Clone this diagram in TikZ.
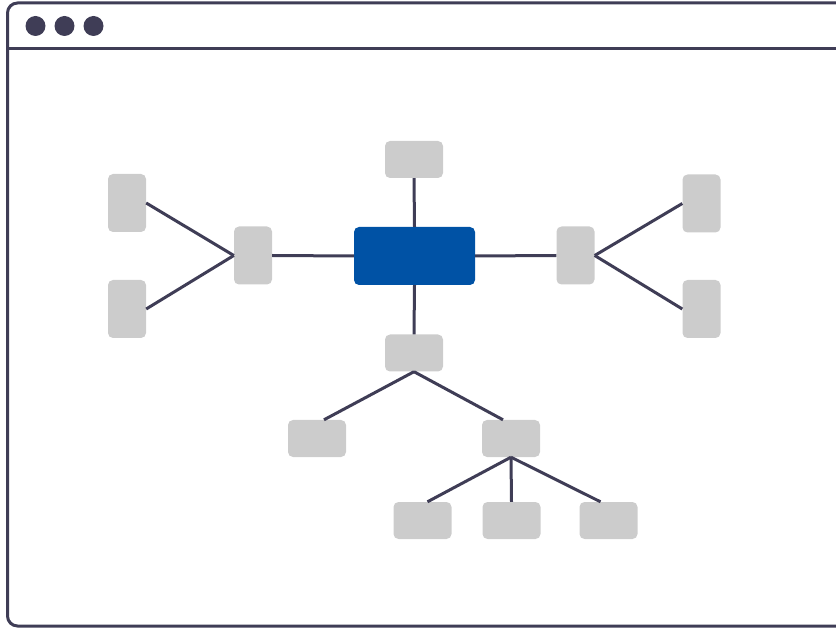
\documentclass[tikz,border=0pt]{standalone}
\usetikzlibrary{calc}
\definecolor{ink}{HTML}{3F3D56}
\definecolor{boxgray}{HTML}{CCCCCC}
\definecolor{mainblue}{HTML}{0052A5}
\begin{document}
\begin{tikzpicture}[x=1pt,y=-1pt,
  gbox/.style={fill=boxgray,rounded corners=5pt,inner sep=0pt,draw=none},
  tall/.style={gbox,minimum width=38pt,minimum height=58pt},
  wide/.style={gbox,minimum width=58pt,minimum height=37pt},
  hub/.style={fill=mainblue,rounded corners=5pt,inner sep=0pt,minimum width=121pt,minimum height=58pt},
  link/.style={draw=ink,line width=3pt},
  dot/.style={circle,fill=ink,inner sep=0pt,minimum size=20pt}]
\useasboundingbox (0,0) rectangle (836,628);
\clip (0,0) rectangle (836,628);
% window
\draw[ink,line width=3pt,rounded corners=10pt] (7.5,3) rectangle (860,626);
\coordinate (hl) at (7.5,49);
\coordinate (hr) at (860,49);
\draw[ink,line width=3pt] (hl) -- (hr);
\node[dot] (d1) at (35.5,26) {};
\node[dot] (d2) at (64.5,26) {};
\node[dot] (d3) at (93.5,26) {};
% nodes
\node[hub] (hub) at (414.5,256) {};
\node[wide] (top) at (414,159.5) {};
\node[tall] (lm) at (253,255.5) {};
\node[tall] (lt) at (127,203) {};
\node[tall] (lb) at (127,309) {};
\node[tall] (rm) at (575.5,255.5) {};
\node[tall] (rt) at (701.5,203.5) {};
\node[tall] (rb) at (701.5,309) {};
\node[wide] (mid) at (414,353) {};
\node[wide] (lc) at (317,438.5) {};
\node[wide] (rc) at (511,438.5) {};
\node[wide] (ba) at (422.5,520.5) {};
\node[wide] (bb) at (511.5,520.5) {};
\node[wide] (bc) at (608.5,520.5) {};
% connectors
\draw[link] (top.south) -- (hub.north);
\draw[link] (lm.east) -- (hub.west);
\draw[link] (lt.east) -- (lm.west);
\draw[link] (lb.east) -- (lm.west);
\draw[link] (hub.east) -- (rm.west);
\draw[link] (rm.east) -- (rt.west);
\draw[link] (rm.east) -- (rb.west);
\draw[link] (hub.south) -- (mid.north);
\draw[link] (mid.south) -- ([xshift=7pt]lc.north);
\draw[link] (mid.south) -- ([xshift=-8pt]rc.north);
\draw[link] (rc.south) -- ([xshift=5pt]ba.north);
\draw[link] (rc.south) -- (bb.north);
\draw[link] (rc.south) -- ([xshift=-8pt]bc.north);
\end{tikzpicture}
\end{document}
